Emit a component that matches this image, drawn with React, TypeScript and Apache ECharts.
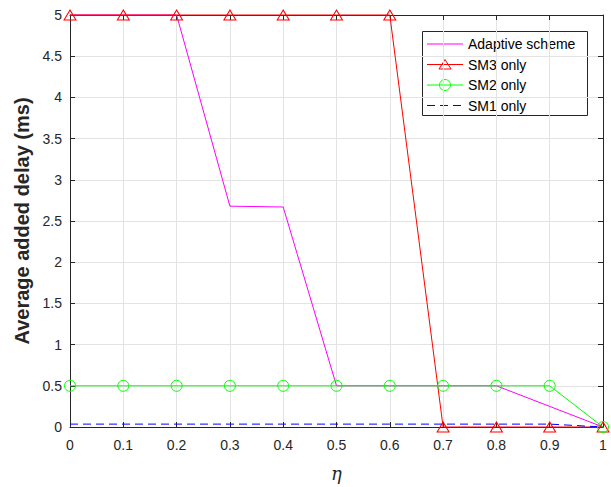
import React, { useEffect, useRef } from "react";
import * as echarts from "echarts";

const etaValues = [0, 0.1, 0.2, 0.3, 0.4, 0.5, 0.6, 0.7, 0.8, 0.9, 1];
const adaptiveDelay = [5, 5, 5, 2.68, 2.67, 0.5, 0.5, 0.5, 0.5, 0.25, 0];
const sm3Delay = [5, 5, 5, 5, 5, 5, 5, 0, 0, 0, 0];
const sm2Delay = [0.5, 0.5, 0.5, 0.5, 0.5, 0.5, 0.5, 0.5, 0.5, 0.5, 0];
const sm1Delay = [0.035, 0.035, 0.035, 0.035, 0.035, 0.035, 0.035, 0.035, 0.035, 0.035, 0];
const seriesNames = ["Adaptive scheme", "SM3 only", "SM2 only", "SM1 only"];
const seriesColors = ["#ff00ff", "#ff0000", "#00ff00", "#0000ff"];

const FONT = "'Liberation Sans', Arial, Helvetica, sans-serif";
const AXIS_COLOR = "#262626";

function pairs(ys: number[]) {
  return etaValues.map((x, i) => [x, ys[i]]);
}

function legendGraphic() {
  const left = 422;
  const top = 31;
  const rows = [44, 64.5, 85, 105.5];
  const children: any[] = [
    {
      type: "rect",
      shape: { x: left + 0.5, y: top + 0.5, width: 165, height: 84 },
      style: { fill: "#ffffff", stroke: AXIS_COLOR, lineWidth: 1 },
    },
  ];
  rows.forEach((y, i) => {
    const color = seriesColors[i];
    children.push({
      type: "line",
      shape: { x1: 427, y1: y, x2: 463, y2: y },
      style: { stroke: color, lineWidth: 1, lineDash: i === 3 ? [8, 5] : null },
    });
    if (i === 1) {
      children.push({
        type: "polygon",
        shape: { points: [[439, y + 4.5], [451, y + 4.5], [445, y - 5]] },
        style: { fill: "none", stroke: color, lineWidth: 1 },
      });
    }
    if (i === 2) {
      children.push({
        type: "circle",
        shape: { cx: 445, cy: y, r: 5.5 },
        style: { fill: "none", stroke: color, lineWidth: 1 },
      });
    }
    children.push({
      type: "text",
      x: 468,
      y: y,
      style: {
        text: seriesNames[i],
        font: `14px ${FONT}`,
        fill: "#000000",
        textVerticalAlign: "middle",
        verticalAlign: "middle",
      },
    });
  });
  return { type: "group", z: 100, children };
}

export default function App() {
  const ref = useRef<HTMLDivElement>(null);
  useEffect(() => {
    if (!ref.current) return;
    const chart = echarts.init(ref.current, undefined, { renderer: "svg" });
    const tickCommon = {
      show: true,
      inside: true,
      length: 5,
      lineStyle: { color: AXIS_COLOR, width: 1 },
    };
    const lineCommon = { show: true, onZero: false, lineStyle: { color: AXIS_COLOR, width: 1 } };
    const fmt = (v: number) => String(Math.round(v * 10) / 10);
    chart.setOption({
      animation: false,
      backgroundColor: "#ffffff",
      grid: { left: 70, right: 8, top: 15, bottom: 55 },
      xAxis: [
        {
          type: "value",
          min: 0,
          max: 1,
          interval: 0.1,
          position: "bottom",
          axisLine: lineCommon,
          axisTick: tickCommon,
          axisLabel: { color: AXIS_COLOR, fontFamily: FONT, fontSize: 14, margin: 11, formatter: fmt },
          splitLine: { show: true, lineStyle: { color: "#e3e3e3", width: 1 } },
          name: "η",
          nameLocation: "middle",
          nameGap: 37,
          nameTextStyle: { fontFamily: "'DejaVu Serif', 'Liberation Serif', serif", fontStyle: "italic", fontSize: 18, color: AXIS_COLOR },
        },
        {
          type: "value",
          min: 0,
          max: 1,
          interval: 0.1,
          position: "top",
          axisLine: lineCommon,
          axisTick: tickCommon,
          axisLabel: { show: false },
          splitLine: { show: false },
        },
      ],
      yAxis: [
        {
          type: "value",
          min: 0,
          max: 5,
          interval: 0.5,
          position: "left",
          axisLine: lineCommon,
          axisTick: tickCommon,
          axisLabel: { color: AXIS_COLOR, fontFamily: FONT, fontSize: 14, margin: 8, formatter: fmt },
          splitLine: { show: true, lineStyle: { color: "#e3e3e3", width: 1 } },
          name: "Average added delay (ms)",
          nameLocation: "middle",
          nameGap: 33,
          nameTextStyle: { fontFamily: FONT, fontWeight: "bold", fontSize: 20, color: AXIS_COLOR },
        },
        {
          type: "value",
          min: 0,
          max: 5,
          interval: 0.5,
          position: "right",
          axisLine: lineCommon,
          axisTick: tickCommon,
          axisLabel: { show: false },
          splitLine: { show: false },
        },
      ],
      graphic: [legendGraphic()],
      series: [
        {
          name: seriesNames[0],
          type: "line",
          data: pairs(adaptiveDelay),
          symbol: "none",
          clip: false,
          lineStyle: { color: seriesColors[0], width: 1 },
          itemStyle: { color: seriesColors[0] },
        },
        {
          name: seriesNames[1],
          type: "line",
          data: pairs(sm3Delay),
          symbol: "triangle",
          symbolSize: [12, 10],
          clip: false,
          lineStyle: { color: seriesColors[1], width: 1 },
          itemStyle: { color: "transparent", borderColor: seriesColors[1], borderWidth: 1 },
        },
        {
          name: seriesNames[2],
          type: "line",
          data: pairs(sm2Delay),
          symbol: "circle",
          symbolSize: 11,
          clip: false,
          lineStyle: { color: seriesColors[2], width: 1 },
          itemStyle: { color: "transparent", borderColor: seriesColors[2], borderWidth: 1 },
        },
        {
          name: seriesNames[3],
          type: "line",
          data: pairs(sm1Delay),
          symbol: "none",
          clip: false,
          lineStyle: { color: seriesColors[3], width: 1, type: [8, 5] },
          itemStyle: { color: seriesColors[3] },
        },
      ],
    });
    return () => chart.dispose();
  }, []);
  return <div ref={ref} style={{ width: 611, height: 487, position: "absolute", left: 0, top: 0 }} />;
}
